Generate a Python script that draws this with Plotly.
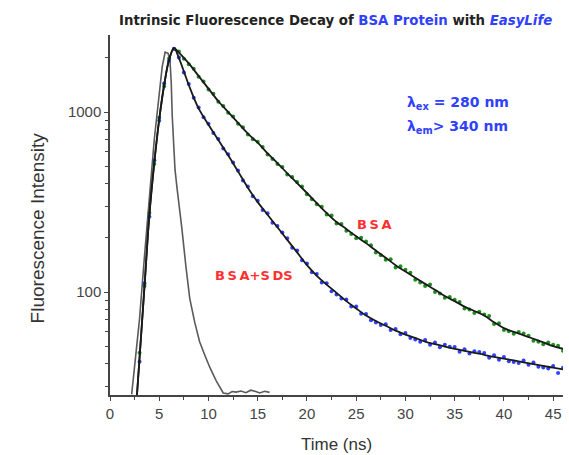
import numpy as np
import plotly.graph_objects as go

# ---- measured decay data (counts), sampled every 0.5 ns starting at 3.0 ns ----
bsa_counts = [
    46, 108, 275, 515, 930, 1390, 1985, 2240, 2170, 1980,
    1840, 1740, 1570, 1480, 1335, 1262, 1140, 1082, 990, 945,
    862, 822, 750, 705, 683, 640, 580, 548, 514, 495,
    450, 436, 409, 386, 349, 328, 307, 298, 270, 266,
    240, 239, 219, 210, 199, 200, 191, 182, 166, 160,
    151, 152, 137, 139, 133, 128, 117, 113, 108, 110,
    100, 98, 93, 94, 90.5, 88, 81, 80, 76.5, 77.8,
    75, 73.5, 66.5, 67, 61.5, 60.5, 58.6, 60, 58.8, 57.2,
    53.6, 53.0, 51.2, 52.4, 51, 50.3, 47.2,
]
sds_counts = [
    41, 112, 262, 540, 895, 1440, 1930, 2250, 2010, 1660,
    1430, 1200, 1060, 935, 862, 765, 708, 627, 582, 525,
    474, 416, 386, 341, 321, 286, 274, 243, 233, 214,
    199, 176, 170, 150, 144, 129, 126, 113, 112, 101,
    97, 92, 91, 83, 83, 75.8, 75.5, 69.8, 67.8, 65.5,
    66.3, 61.6, 62.4, 58.2, 59.3, 55.5, 54.5, 53, 54.2, 51,
    52.5, 49.4, 50.9, 49.6, 49.5, 46.6, 48.1, 45.5, 46.9, 46.5,
    45.8, 43.2, 44.6, 42.1, 43.6, 41.3, 40.9, 40.3, 41.6, 39.4,
    40.6, 38.5, 38.1, 37.6, 38.8, 35.5, 38,
]
t_start, t_step = 3.0, 0.5

# ---- fitted decay curves ----
fit_t = [2.7, 3.0, 3.5, 4.0, 4.5, 5.0, 5.5, 6.0, 6.5] + list(range(7, 47))
fit_rise = [25, 43, 107, 269, 525, 912, 1413, 1950, 2265]
bsa_fit = fit_rise + [
    2138, 1862, 1585, 1349, 1148, 1000, 871, 759, 676, 589,
    521, 457, 403, 355, 312, 275, 245, 224, 204, 187,
    170, 155, 141, 130, 120, 111, 103, 95, 89, 83,
    78.5, 74, 68, 63, 60, 57.5, 55, 52.5, 50, 48.4,
]
sds_fit = fit_rise + [
    1995, 1413, 1047, 851, 700, 575, 468, 380, 316, 269,
    229, 195, 166, 141, 123, 110, 99, 89, 81, 74,
    69, 65, 61, 58, 55.6, 53, 51.3, 49.8, 48.4, 47.1,
    45.9, 44.8, 43.6, 42.7, 41.7, 40.7, 39.8, 38.9, 38, 37.2,
]

# ---- instrument response function ----
irf_t = [2.2, 2.6, 3.0, 3.5, 4.0, 4.5, 5.0, 5.3, 5.6, 5.9, 6.1, 6.22, 6.32, 6.45,
         6.6, 6.8, 7.05, 7.3, 7.7, 8.1, 8.6, 9.1, 9.6, 10.15, 10.8, 11.5,
         12.0, 12.4, 12.8, 13.3, 13.8, 14.3, 14.8, 15.2, 15.7, 16.2]
irf_counts = [27, 42, 71, 158, 355, 708, 1259, 1780, 2150, 2120, 1900, 1450, 950, 640,
              480, 380, 295, 225, 140, 92, 68, 53, 45, 38, 32, 27.5,
              27.2, 28, 27.8, 28.2, 27.6, 28.5, 28, 27.5, 28.1, 27.7]

x_ticks = [0, 5, 10, 15, 20, 25, 30, 35, 40, 45]
x_minor = [2.5, 7.5, 12.5, 17.5, 22.5, 27.5, 32.5, 37.5, 42.5]
y_ticks = [100, 1000]
y_minor = [30, 40, 50, 60, 70, 80, 90, 200, 300, 400, 500, 600, 700, 800, 900, 2000]

GREEN = "#1e8f1e"
BLUE = "#3040ff"
RED = "#ff3030"
AXIS = "#444444"

t_bsa = t_start + t_step * np.arange(len(bsa_counts))
t_sds = t_start + t_step * np.arange(len(sds_counts))

fig = go.Figure()
fig.add_trace(go.Scatter(x=irf_t, y=irf_counts, mode="lines",
                         line=dict(color="#5a5a5a", width=1.6), name="IRF"))
fig.add_trace(go.Scatter(x=t_bsa, y=bsa_counts, mode="markers",
                         marker=dict(color=GREEN, size=4), name="BSA"))
fig.add_trace(go.Scatter(x=t_sds, y=sds_counts, mode="markers",
                         marker=dict(color=BLUE, size=4), name="BSA+SDS"))
fig.add_trace(go.Scatter(x=fit_t, y=bsa_fit, mode="lines",
                         line=dict(color="#1a1a1a", width=1.8, shape="spline"),
                         name="BSA fit"))
fig.add_trace(go.Scatter(x=fit_t, y=sds_fit, mode="lines",
                         line=dict(color="#1a1a1a", width=1.8, shape="spline"),
                         name="BSA+SDS fit"))

tick_font = dict(family="Liberation Sans, Arial, sans-serif", size=15, color=AXIS)

fig.update_layout(
    width=569, height=455,
    margin=dict(l=110, r=6, t=35, b=60),
    paper_bgcolor="white", plot_bgcolor="white",
    showlegend=False,
    xaxis=dict(
        range=[0, 46.0], showgrid=False, zeroline=False,
        showline=True, linecolor=AXIS, linewidth=1.5,
        tickmode="array", tickvals=x_ticks, ticks="outside",
        ticklen=4, tickwidth=1.2, tickcolor=AXIS, tickfont=tick_font,
        minor=dict(tickvals=x_minor, ticks="outside", ticklen=3,
                   tickwidth=1.2, tickcolor=AXIS),
    ),
    yaxis=dict(
        type="log", range=[1.428, 3.428], showgrid=False, zeroline=False,
        showline=True, linecolor=AXIS, linewidth=1.5,
        tickmode="array", tickvals=y_ticks, ticktext=["100", "1000"],
        ticks="outside", ticklen=4, tickwidth=1.2, tickcolor=AXIS,
        tickfont=tick_font,
        minor=dict(tickvals=y_minor, ticks="outside", ticklen=3,
                   tickwidth=1.2, tickcolor=AXIS),
    ),
)

title_html = ("<b>Intrinsic Fluorescence Decay of "
              f"<span style='color:{BLUE}'>BSA Protein</span> with "
              f"<span style='color:{BLUE}'><i>EasyLife</i></span></b>")
fig.add_annotation(text=title_html, xref="paper", yref="paper",
                   x=0.0155, y=1.039, xanchor="left", yanchor="middle",
                   showarrow=False,
                   font=dict(family="DejaVu Sans", size=13.3, color="#222222"))

lam_font = dict(family="DejaVu Sans", size=14, color=BLUE)
fig.add_annotation(text="<b>λ<sub>ex</sub> = 280 nm</b>", xref="paper", yref="paper",
                   x=0.652, y=0.811, xanchor="left", yanchor="middle",
                   showarrow=False, font=lam_font)
fig.add_annotation(text="<b>λ<sub>em</sub>> 340 nm</b>", xref="paper", yref="paper",
                   x=0.652, y=0.744, xanchor="left", yanchor="middle",
                   showarrow=False, font=lam_font)

lbl_font = dict(family="DejaVu Sans", size=13, color=RED)
fig.add_annotation(text="<b>B\u2009S\u2009A</b>", xref="paper", yref="paper",
                   x=0.583, y=0.475, xanchor="center", yanchor="middle",
                   showarrow=False, font=lbl_font)
fig.add_annotation(text="<b>B\u2009S\u2009A+S\u2009DS</b>", xref="paper", yref="paper",
                   x=0.318, y=0.333, xanchor="center", yanchor="middle",
                   showarrow=False, font=lbl_font)

axis_title_font = dict(family="Liberation Sans, Arial, sans-serif", size=19, color="#333333")
fig.add_annotation(text="Fluorescence Intensity", xref="paper", yref="paper",
                   x=-0.158, y=0.464, xanchor="center", yanchor="middle",
                   textangle=-90, showarrow=False, font=axis_title_font)
fig.add_annotation(text="Time (ns)", xref="paper", yref="paper",
                   x=0.5, y=-0.138, xanchor="center", yanchor="middle",
                   showarrow=False, font=dict(family="Liberation Sans, Arial, sans-serif",
                                              size=17, color="#333333"))

fig.write_html("out.html")
